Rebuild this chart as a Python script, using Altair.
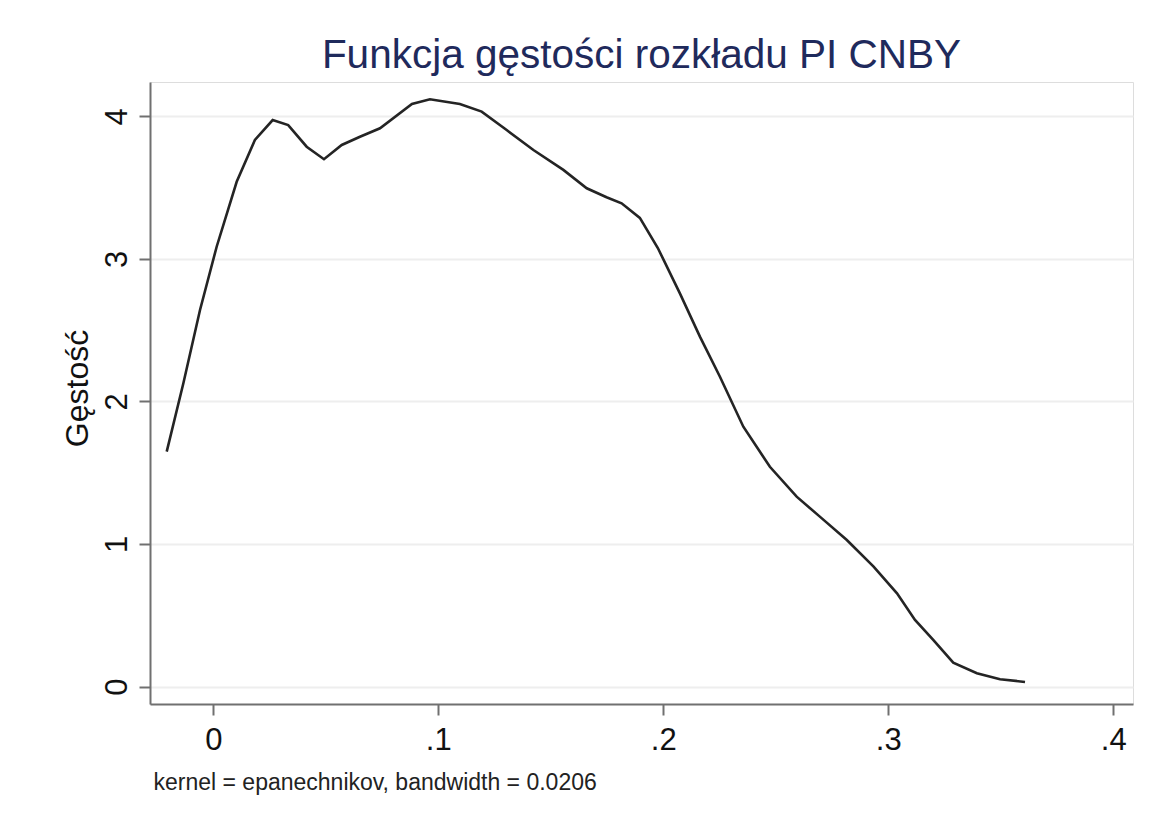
import altair as alt
import pandas as pd

# density estimate points
x_vals = [-0.0207, -0.0133, -0.0059, 0.0015, 0.0104, 0.0185, 0.0264, 0.0333, 0.0415, 0.0492,
          0.0571, 0.0652, 0.0741, 0.0883, 0.0963, 0.1096, 0.1193, 0.1304, 0.1423, 0.1556,
          0.1660, 0.1748, 0.1815, 0.1896, 0.1976, 0.2074, 0.2163, 0.2252, 0.2356, 0.2474,
          0.2593, 0.2696, 0.2816, 0.2935, 0.3039, 0.3119, 0.3201, 0.3289, 0.3394, 0.3497,
          0.3608]
y_vals = [1.648, 2.128, 2.642, 3.086, 3.542, 3.835, 3.975, 3.940, 3.788, 3.700,
          3.800, 3.858, 3.917, 4.088, 4.121, 4.088, 4.034, 3.905, 3.765, 3.625,
          3.496, 3.433, 3.391, 3.288, 3.077, 2.759, 2.455, 2.174, 1.823, 1.542,
          1.332, 1.192, 1.028, 0.841, 0.654, 0.467, 0.326, 0.167, 0.093, 0.051,
          0.032]

x_ticks = [0, 0.1, 0.2, 0.3, 0.4]
y_ticks = [0, 1, 2, 3, 4]

title_text = "Funkcja gęstości rozkładu PI CNBY"
y_title = "Gęstość"
note_text = "kernel = epanechnikov, bandwidth = 0.0206"

df = pd.DataFrame({"x": x_vals, "y": y_vals})

FONT = "Liberation Sans"
AXIS_COLOR = "#707070"

chart = (
    alt.Chart(df)
    .mark_line(color="#242424", strokeWidth=2.6)
    .encode(
        x=alt.X(
            "x:Q",
            scale=alt.Scale(domain=[-0.02813, 0.4088], nice=False, zero=False),
            axis=alt.Axis(
                values=x_ticks,
                labelExpr="datum.value == 0 ? '0' : replace(format(datum.value, '.1f'), '0.', '.')",
                grid=False,
                title=note_text,
                titleAnchor="start",
                titleAlign="left",
                titleBaseline="alphabetic",
                titleX=3,
                titleY=85,
                titleFontSize=23,
                titleFontWeight="normal",
                titleColor="#222222",
                titleFont=FONT,
                labelFontSize=31,
                labelFont=FONT,
                labelColor="#111111",
                labelPadding=10,
                tickSize=11,
                tickWidth=2,
                tickColor=AXIS_COLOR,
                domainColor=AXIS_COLOR,
                domainWidth=2,
            ),
        ),
        y=alt.Y(
            "y:Q",
            scale=alt.Scale(domain=[-0.1228, 4.242], nice=False, zero=False),
            axis=alt.Axis(
                values=y_ticks,
                format="d",
                grid=True,
                gridColor="#eeeeee",
                gridWidth=2,
                title=y_title,
                titleFontSize=32,
                titleFontWeight="normal",
                titleColor="#111111",
                titleFont=FONT,
                titleAngle=270,
                titleX=-63,
                titleY=306,
                titleAlign="center",
                titleBaseline="alphabetic",
                labelAngle=270,
                labelAlign="center",
                labelBaseline="alphabetic",
                labelFontSize=31,
                labelFont=FONT,
                labelColor="#111111",
                labelPadding=13,
                tickSize=11,
                tickWidth=2,
                tickColor=AXIS_COLOR,
                domainColor=AXIS_COLOR,
                domainWidth=2,
            ),
        ),
    )
    .properties(
        width=983,
        height=622,
        title=alt.TitleParams(
            text=title_text,
            font=FONT,
            fontSize=40.5,
            fontWeight="normal",
            color="#1f2a5c",
            anchor="middle",
            offset=6,
        ),
        autosize=alt.AutoSizeParams(type="none"),
        padding={"left": 142, "top": 74, "right": 25, "bottom": 107},
    )
    .configure_view(strokeWidth=0)
    .configure(background="white")
)

chart.save("out.html", embed_options={"renderer": "svg", "actions": False})
